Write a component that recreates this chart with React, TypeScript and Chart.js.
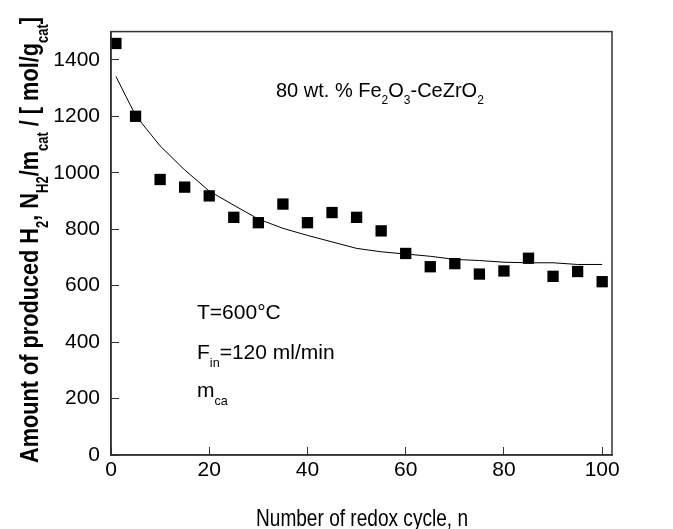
import React, { useEffect, useRef } from "react";
import { Chart, registerables } from "chart.js";

Chart.register(...registerables);

// ---- data ----
const cycles = [1, 5, 10, 15, 20, 25, 30, 35, 40, 45, 50, 55, 60, 65, 70, 75, 80, 85, 90, 95, 100];
const measuredH2 = [1458, 1200, 976, 949, 918, 842, 823, 889, 823, 859, 842, 794, 714, 667, 678, 641, 652, 697, 633, 650, 614];
const fitH2 = [1341, 1203, 1095, 1010, 935, 885, 836, 803, 778, 755, 732, 720, 712, 704, 693, 689, 683, 681, 681, 675, 675];
const xTickValues = [0, 20, 40, 60, 80, 100];
const yTickValues = [0, 200, 400, 600, 800, 1000, 1200, 1400];

type Seg = { t: string; sub?: boolean };

const xTitle: Seg[] = [{ t: "Number of redox cycle, n" }];
const yTitle: Seg[] = [
  { t: "Amount of produced H" }, { t: "2", sub: true },
  { t: ", N" }, { t: "H2", sub: true },
  { t: "/m" }, { t: "cat", sub: true },
  { t: " / [ mol/g" }, { t: "cat", sub: true },
  { t: "]" },
];
const noteCatalyst: Seg[] = [
  { t: "80 wt. % Fe" }, { t: "2", sub: true }, { t: "O" }, { t: "3", sub: true },
  { t: "-CeZrO" }, { t: "2", sub: true },
];
const noteTemp: Seg[] = [{ t: "T=600°C" }];
const noteFlow: Seg[] = [{ t: "F" }, { t: "in", sub: true }, { t: "=120 ml/min" }];
const noteMass: Seg[] = [{ t: "m" }, { t: "ca", sub: true }];

const FAMILY = "'Liberation Sans', Arial, Helvetica, sans-serif";

function segFont(size: number, weight: string, sub?: boolean) {
  const s = sub ? size * 0.6 : size;
  return `${weight} ${s}px ${FAMILY}`;
}

function measureRich(ctx: CanvasRenderingContext2D, segs: Seg[], size: number, weight: string) {
  let w = 0;
  for (const s of segs) {
    ctx.font = segFont(size, weight, s.sub);
    w += ctx.measureText(s.t).width;
  }
  return w;
}

function drawRich(ctx: CanvasRenderingContext2D, segs: Seg[], x: number, y: number, size: number, weight: string) {
  let cx = x;
  ctx.textBaseline = "alphabetic";
  ctx.textAlign = "left";
  for (const s of segs) {
    ctx.font = segFont(size, weight, s.sub);
    ctx.fillText(s.t, cx, s.sub ? y + size * 0.36 : y);
    cx += ctx.measureText(s.t).width;
  }
}

const decorPlugin = {
  id: "decor",
  afterDraw(chart: any) {
    const ctx: CanvasRenderingContext2D = chart.ctx;
    const a = chart.chartArea;
    ctx.save();
    // frame
    ctx.strokeStyle = "#333";
    ctx.lineWidth = 1.5;
    ctx.strokeRect(a.left, a.top, a.right - a.left, a.bottom - a.top);
    ctx.fillStyle = "#000";

    // x title (condensed)
    {
      const size = 24;
      const w = measureRich(ctx, xTitle, size, "normal");
      const sx = 212 / w;
      ctx.save();
      ctx.translate(362, 517 + size * 0.36);
      ctx.scale(sx, 1);
      drawRich(ctx, xTitle, -w / 2, 0, size, "normal");
      ctx.restore();
    }
    // y title (rotated, condensed)
    {
      const size = 26;
      const w = measureRich(ctx, yTitle, size, "bold");
      const sx = 446 / w;
      ctx.save();
      ctx.translate(29, 240);
      ctx.rotate(-Math.PI / 2);
      ctx.scale(sx, 1);
      drawRich(ctx, yTitle, -w / 2, size * 0.36, size, "bold");
      ctx.restore();
    }
    // annotations
    drawRich(ctx, noteCatalyst, 276, 97, 20, "normal");
    drawRich(ctx, noteTemp, 197, 319, 21, "normal");
    drawRich(ctx, noteFlow, 197, 359, 21, "normal");
    drawRich(ctx, noteMass, 197, 397, 21, "normal");
    ctx.restore();
  },
};

export default function App() {
  const ref = useRef<HTMLCanvasElement | null>(null);

  useEffect(() => {
    if (!ref.current) return;
    const tickFont = { family: FAMILY, size: 21, weight: "normal" as const };
    const chart = new Chart(ref.current, {
      type: "scatter",
      data: {
        datasets: [
          {
            label: "fit",
            data: cycles.map((c, i) => ({ x: c, y: fitH2[i] })),
            showLine: true,
            borderColor: "#000",
            borderWidth: 1,
            pointRadius: 0,
            fill: false,
            tension: 0,
          },
          {
            label: "measured",
            data: cycles.map((c, i) => ({ x: c, y: measuredH2[i] })),
            showLine: false,
            pointStyle: "rect",
            pointRadius: 8,
            backgroundColor: "#000",
            borderColor: "#000",
            borderWidth: 0,
            clip: false as any,
          },
        ],
      },
      options: {
        animation: false,
        responsive: true,
        maintainAspectRatio: false,
        layout: { padding: { top: 13, right: 61, left: 0, bottom: 0 } },
        plugins: { legend: { display: false }, tooltip: { enabled: false } },
        scales: {
          x: {
            type: "linear",
            min: 0,
            max: 102,
            afterBuildTicks: (s: any) => {
              s.ticks = xTickValues.map((v) => ({ value: v }));
            },
            afterFit: (s: any) => {
              s.height = 74;
            },
            ticks: {
              font: tickFont, color: "#000", padding: 11, maxRotation: 0, autoSkip: false,
              callback: (v: any) => String(v),
            },
            grid: { display: true, drawOnChartArea: false, drawTicks: true, tickLength: -8, tickColor: "#333", tickWidth: 1 },
            border: { display: true, color: "#333", width: 1.5 },
          },
          y: {
            type: "linear",
            min: 0,
            max: 1500,
            afterBuildTicks: (s: any) => {
              s.ticks = yTickValues.map((v) => ({ value: v }));
            },
            afterFit: (s: any) => {
              s.width = 111;
            },
            ticks: {
              font: tickFont, color: "#000", padding: 19, autoSkip: false,
              callback: (v: any) => String(v),
            },
            grid: { display: true, drawOnChartArea: false, drawTicks: true, tickLength: -8, tickColor: "#333", tickWidth: 1 },
            border: { display: true, color: "#333", width: 1.5 },
          },
        },
      },
      plugins: [decorPlugin],
    });
    return () => chart.destroy();
  }, []);

  return (
    <div style={{ position: "absolute", left: 0, top: 0, width: 673, height: 529, background: "#fff" }}>
      <canvas ref={ref} />
    </div>
  );
}
